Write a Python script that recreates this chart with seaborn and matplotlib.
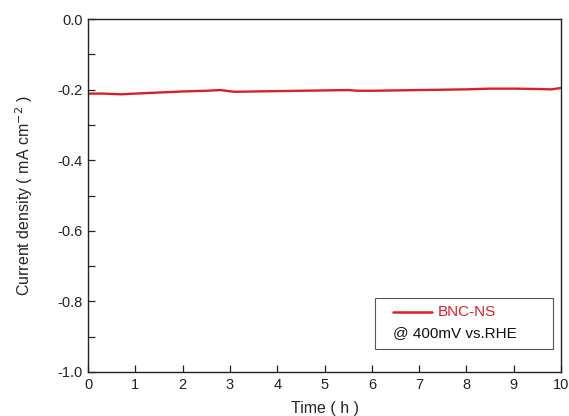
import matplotlib
matplotlib.use("Agg")
import matplotlib.pyplot as plt
import seaborn as sns
import pandas as pd
from matplotlib.patches import Rectangle
from matplotlib.ticker import MultipleLocator

time_h = [0.0, 0.3, 0.7, 1.0, 1.5, 2.0, 2.5, 2.8, 3.1, 3.5, 4.0, 4.5, 5.0, 5.5, 5.7,
          6.0, 6.5, 7.0, 7.5, 8.0, 8.5, 9.0, 9.5, 9.8, 10.0]
current = [-0.211, -0.211, -0.213, -0.211, -0.208, -0.205, -0.203, -0.201, -0.206, -0.205,
           -0.204, -0.203, -0.202, -0.201, -0.203, -0.203, -0.202, -0.201, -0.200, -0.199,
           -0.197, -0.197, -0.198, -0.199, -0.195]
series_label = "BNC-NS"
condition_label = "@ 400mV vs.RHE"
xticks = list(range(0, 11))
yticks = [0.0, -0.2, -0.4, -0.6, -0.8, -1.0]

sns.set_style("ticks")
plt.rcParams['font.family'] = ['Liberation Sans', 'DejaVu Sans']
plt.rcParams['axes.unicode_minus'] = False

df = pd.DataFrame({"t": time_h, "j": current})

fig = plt.figure(figsize=(5.69, 4.16), dpi=100)
ax = fig.add_axes([0.1547, 0.1058, 0.986 - 0.1547, 0.954 - 0.1058])
red = "#dd1f26"
sns.lineplot(data=df, x="t", y="j", ax=ax, color=red, linewidth=1.7)

ax.set_xlim(0, 10)
ax.set_ylim(-1.0, 0.0)
ax.set_xticks(xticks)
ax.set_xticklabels([str(v) for v in xticks])
ax.set_yticks(yticks)
ax.set_yticklabels([f"{v:.1f}" for v in yticks])
ax.yaxis.set_minor_locator(MultipleLocator(0.1))
ax.tick_params(axis="both", which="major", direction="in", length=5, width=0.9,
               labelsize=10.5, colors="#222222", pad=4)
ax.tick_params(axis="y", which="minor", direction="in", length=5, width=0.9, colors="#222222")
ax.tick_params(axis="x", which="minor", length=0)
for s in ax.spines.values():
    s.set_linewidth(1.0)
    s.set_color("#222222")

ax.set_xlabel("Time ( h )", fontsize=11.5, labelpad=7)
ax.set_ylabel("Current density ( mA cm$^{-2}$ )", fontsize=11.5, labelpad=16)

# legend box
ax.add_patch(Rectangle((0.607, 0.065), 0.376, 0.145, transform=ax.transAxes,
                       fill=False, edgecolor="#555555", linewidth=0.8))
ax.plot([0.645, 0.727], [0.170, 0.170], transform=ax.transAxes, color=red, linewidth=1.8)
ax.text(0.740, 0.170, series_label, transform=ax.transAxes, color=red, fontsize=11,
        va="center", ha="left")
ax.text(0.645, 0.110, condition_label, transform=ax.transAxes, color="#111111", fontsize=11,
        va="center", ha="left")

fig.savefig("out.png", dpi=100)
